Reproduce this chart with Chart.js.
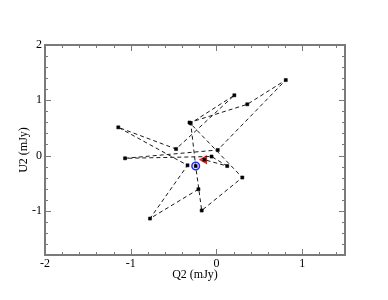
<!DOCTYPE html>
<html>
<head>
<meta charset="utf-8">
<script src="https://cdn.jsdelivr.net/npm/chart.js@4"></script>
<style>
  body { margin: 0; background: #fff; }
  #wrap { width: 388px; height: 300px; }
</style>
</head>
<body>
<div id="wrap"><canvas id="grafico" width="388" height="300"></canvas></div>
<script>
// valores (mJy), na ordem em que a linha tracejada os liga
const q2 = [-0.21, -0.775, -0.337, -1.145, -0.471, 0.209, -0.30, -0.242, -0.172, 0.302, -0.314, 0.36, 0.809, 0.015, -1.066, -0.057, 0.126, -0.141];
const u2 = [-0.61, -1.14, -0.177, 0.51, 0.118, 1.09, 0.585, -0.19, -0.995, -0.398, 0.597, 0.927, 1.366, 0.10, -0.05, -0.018, -0.19, -0.076];

// marcadores destacados
const azulQ = [-0.242];
const azulU = [-0.19];
const vermelhoQ = [-0.141];
const vermelhoU = [-0.076];

const xTicks = [-2, -1, 0, 1];
const yTicks = [-1, 0, 1, 2];
const xMin = -2, xMax = 1.5;
const yMin = -1.8, yMax = 2;

function pares(xs, ys) {
    return xs.map((x, i) => ({ x: x, y: ys[i] }));
}

// moldura, marcas de escala e textos
const moldura = {
    id: 'moldura',
    beforeDatasetsDraw(chart) {
        const ctx = chart.ctx;
        const a = chart.chartArea;
        const sx = chart.scales.x, sy = chart.scales.y;
        ctx.save();
        ctx.strokeStyle = '#7a7a7a';
        ctx.lineWidth = 1;
        // marcas menores a cada 0.2, maiores nos inteiros
        for (let i = 0; i <= 17; i++) {
            const v = xMin + i * 0.2;
            const px = Math.round(sx.getPixelForValue(v)) + 0.5;
            const len = (Math.abs(v - Math.round(v)) < 1e-6) ? 6 : 3;
            ctx.beginPath();
            ctx.moveTo(px, a.bottom); ctx.lineTo(px, a.bottom - len);
            ctx.moveTo(px, a.top); ctx.lineTo(px, a.top + len);
            ctx.stroke();
        }
        for (let i = 0; i <= 19; i++) {
            const v = yMin + i * 0.2;
            const py = Math.round(sy.getPixelForValue(v)) + 0.5;
            const len = (Math.abs(v - Math.round(v)) < 1e-6) ? 6 : 3;
            ctx.beginPath();
            ctx.moveTo(a.left, py); ctx.lineTo(a.left + len, py);
            ctx.moveTo(a.right, py); ctx.lineTo(a.right - len, py);
            ctx.stroke();
        }
        ctx.lineWidth = 2;
        ctx.strokeRect(a.left, a.top, a.right - a.left, a.bottom - a.top);

        ctx.fillStyle = '#000';
        ctx.font = '12px "Liberation Serif", "DejaVu Serif", serif';
        ctx.textAlign = 'center';
        ctx.textBaseline = 'middle';
        xTicks.forEach(v => {
            ctx.fillText(String(v), sx.getPixelForValue(v), a.bottom + 9);
        });
        ctx.textAlign = 'right';
        yTicks.forEach(v => {
            ctx.fillText(String(v), a.left - 3, sy.getPixelForValue(v));
        });
        ctx.textAlign = 'center';
        ctx.fillText('Q2 (mJy)', (a.left + a.right) / 2, a.bottom + 20);
        ctx.translate(24, (a.top + a.bottom) / 2);
        ctx.rotate(-Math.PI / 2);
        ctx.fillText('U2 (mJy)', 0, 0);
        ctx.restore();
    }
};

const config = {
    type: 'scatter',
    data: {
        datasets: [
            {
                label: 'Q2 x U2',
                data: pares(q2, u2),
                showLine: true,
                borderColor: '#1a1a1a',
                borderWidth: 1,
                borderDash: [4, 3],
                pointStyle: 'rect',
                pointRadius: 2.2,
                pointBackgroundColor: '#000',
                pointBorderColor: '#000',
                pointBorderWidth: 0.5
            },
            {
                label: 'azul',
                data: pares(azulQ, azulU),
                pointStyle: 'circle',
                pointRadius: 3.8,
                borderColor: '#1f2cff',
                borderWidth: 1.5,
                backgroundColor: 'rgba(0,0,0,0)',
                showLine: false
            },
            {
                label: 'vermelho',
                data: pares(vermelhoQ, vermelhoU),
                pointStyle: 'triangle',
                rotation: -90,
                pointRadius: 4,
                borderColor: '#ff1a1a',
                borderWidth: 1.5,
                backgroundColor: 'rgba(0,0,0,0)',
                showLine: false
            }
        ]
    },
    options: {
        responsive: false,
        animation: false,
        layout: { padding: { left: 45, right: 43, top: 45, bottom: 45 } },
        plugins: {
            legend: { display: false },
            tooltip: { enabled: false }
        },
        scales: {
            x: { type: 'linear', min: xMin, max: xMax, display: false },
            y: { type: 'linear', min: yMin, max: yMax, display: false }
        }
    },
    plugins: [moldura]
};

const ctx = document.getElementById('grafico').getContext('2d');
new Chart(ctx, config);
</script>
</body>
</html>
